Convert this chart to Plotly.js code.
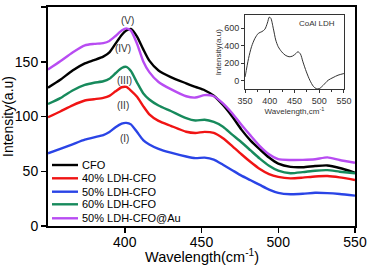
<!DOCTYPE html>
<html>
<head>
<meta charset="utf-8">
<script src="https://cdn.plot.ly/plotly-3.0.1.min.js"></script>
<style>html,body{margin:0;padding:0;background:#fff;}#chart{width:368px;height:265px;}</style>
</head>
<body>
<div id="chart"></div>
<script>
// Main spectra: common wavelength grid
const wavelength = [350,358,366,374,380,386,390,394,398,401,404,408,412,416,422,430,440,446,452,458,464,470,476,482,488,494,500,508,516,524,532,540,550];
const cfo      = [126.3,133.5,142,148.5,151.5,154.7,158.5,166.5,174.5,178.5,180,173,161.5,151,142,136,130.3,127,124,119,110.5,100,88,78,70,62.5,57,54,53.7,54.8,55.3,53,48.7];
const ldh40    = [99.3,104.6,110.2,114.6,115.8,117,118.8,123,126.7,127,123.7,118,109.5,102,96,91.5,86.1,85,86,85,80.1,73,65.5,58.4,52,47.3,44.8,43.5,44.2,45.2,45.6,44.4,42];
const ldh50    = [66.4,70.4,74.6,78.8,81,83,85.8,90.2,93.5,94.2,92.8,85.8,78.5,74.5,70.5,67,63.5,62,62.4,60.7,56,51,46,41.8,37.5,33.3,30.3,29,29.4,30.3,30,29.2,27.7];
const ldh60    = [111.4,116.8,123.8,128.8,130.8,132.2,134.5,139.5,144.3,145.3,141.5,131,121.3,115.5,110,105,98.5,96.3,97,95,90.7,83.5,76.5,69,61.5,55,50.5,48.2,49.2,50.5,51,49.6,48.1];
const ldh50Au  = [143,150.5,158.5,165,166.3,167,169,173.5,178.5,180.5,178.5,166.5,150.5,140.5,131.5,125,118.5,117.3,119.5,118.5,112,103,92.5,82.5,73,65.5,61,60.3,60.4,61,62.7,60.3,57.8];
const seriesNames = ["CFO","40% LDH-CFO","50% LDH-CFO","60% LDH-CFO","50% LDH-CFO@Au"];
const seriesColors = ["#000000","#f01414","#2a44e6","#178a5c","#b84cf2"];
// Peak labels
const peakLabels = ["(I)","(II)","(III)","(IV)","(V)"];
const peakLabelX = [400,399,400,399,401.5];
const peakLabelY = [79.5,110.5,133,162.5,188];
// Inset: CoAl LDH
const insetX = [350,357,363,370,377,384,390,395,399,402,407,412,417,424,431,439,446,453,457,462,467,474,481,488,494,500,508,518,528,538,550];
const insetY = [42,254,388,485,542,561,588,658,727,715,600,465,388,330,292,273,281,311,330,304,215,100,4,-65,-92,-92,-54,4,35,62,81];
const xTicks = [400,450,500,550];
const yTicks = [0,50,100,150,200];
const insetXTicks = [350,400,450,500,550];
const insetYTicks = [0,200,400,600];

const F = "Arial, 'Liberation Sans', sans-serif";
const allY = [cfo, ldh40, ldh50, ldh60, ldh50Au];
const traces = allY.map((ys,i)=>({
  x: wavelength, y: ys, type:'scatter', mode:'lines', name: seriesNames[i],
  line:{color: seriesColors[i], width:2.4, shape:'spline', smoothing:0.6},
  showlegend:false, xaxis:'x', yaxis:'y'
}));
traces.push({x: insetX, y: insetY, type:'scatter', mode:'lines', name:'CoAl LDH',
  line:{color:'#333', width:1, shape:'spline', smoothing:0.8}, showlegend:false, xaxis:'x2', yaxis:'y2'});

// Manual compact legend
const legRowY = [0.2785,0.2178,0.1566,0.0991,0.0352];
const shapes = [];
const annotations = [];
seriesNames.forEach((n,i)=>{
  shapes.push({type:'line', xref:'paper', yref:'paper', x0:0.013, x1:0.0977, y0:legRowY[i], y1:legRowY[i],
    line:{color:seriesColors[i], width:2.4}});
  annotations.push({xref:'paper', yref:'paper', x:0.105, y:legRowY[i], xanchor:'left', yanchor:'middle',
    text:n, showarrow:false, font:{family:F, size:11, color:'#000'}});
});
peakLabels.forEach((t,i)=>{
  annotations.push({xref:'x', yref:'y', x:peakLabelX[i], y:peakLabelY[i], text:t, showarrow:false,
    font:{family:F, size:10, color:'#333'}});
});
annotations.push({xref:'x2', yref:'y2', x:535, y:650, text:'CoAl LDH', xanchor:'right', showarrow:false,
  font:{family:F, size:8, color:'#333'}});
// Main x-axis title placed precisely below the tick labels
annotations.push({xref:'paper', yref:'paper', x:0.5, y:-0.137, xanchor:'center', yanchor:'middle',
  text:'Wavelength(cm<sup>-1</sup>)', showarrow:false, font:{family:F, size:14.5, color:'#000'}});

const layout = {
  width:368, height:265,
  margin:{l:48, r:13, t:7, b:39},
  paper_bgcolor:'#fff', plot_bgcolor:'#fff',
  font:{family:F, color:'#000'},
  xaxis:{range:[350,550], tickvals:xTicks, ticks:'outside', ticklen:5, tickwidth:1.5, tickcolor:'#000',
    showline:true, mirror:true, linewidth:2, linecolor:'#000', showgrid:false, zeroline:false,
    tickfont:{family:F, size:14, color:'#000'}, ticklabelstandoff:-3},
  yaxis:{range:[0,200], tickvals:yTicks, ticks:'outside', ticklen:5, tickwidth:1.5, tickcolor:'#000',
    showline:true, mirror:true, linewidth:2, linecolor:'#000', showgrid:false, zeroline:false,
    tickfont:{family:F, size:14, color:'#000'},
    title:{text:'Intensity(a.u)', font:{family:F, size:14, color:'#000'}, standoff:3}},
  xaxis2:{domain:[0.642,0.964], anchor:'y2', range:[350,550], tickvals:insetXTicks, ticks:'outside', ticklen:3, tickwidth:1,
    tickcolor:'#333', showline:true, mirror:true, linewidth:1, linecolor:'#333', showgrid:false, zeroline:false,
    minor:{dtick:25, ticks:'outside', ticklen:2, tickcolor:'#333'},
    tickfont:{family:F, size:9, color:'#333'},
    title:{text:'Wavelength,cm<sup>-1</sup>', font:{family:F, size:8, color:'#333'}, standoff:0}},
  yaxis2:{domain:[0.624,0.963], anchor:'x2', range:[-100,750], tickvals:insetYTicks, ticks:'outside', ticklen:3, tickwidth:1,
    tickcolor:'#333', showline:true, mirror:true, linewidth:1, linecolor:'#333', showgrid:false, zeroline:false,
    tickfont:{family:F, size:9, color:'#333'},
    title:{text:'Intensity(a.u)', font:{family:F, size:8, color:'#333'}, standoff:1}},
  shapes: shapes,
  annotations: annotations,
  showlegend:false
};
Plotly.newPlot('chart', traces, layout, {displayModeBar:false, staticPlot:true});
</script>
</body>
</html>
